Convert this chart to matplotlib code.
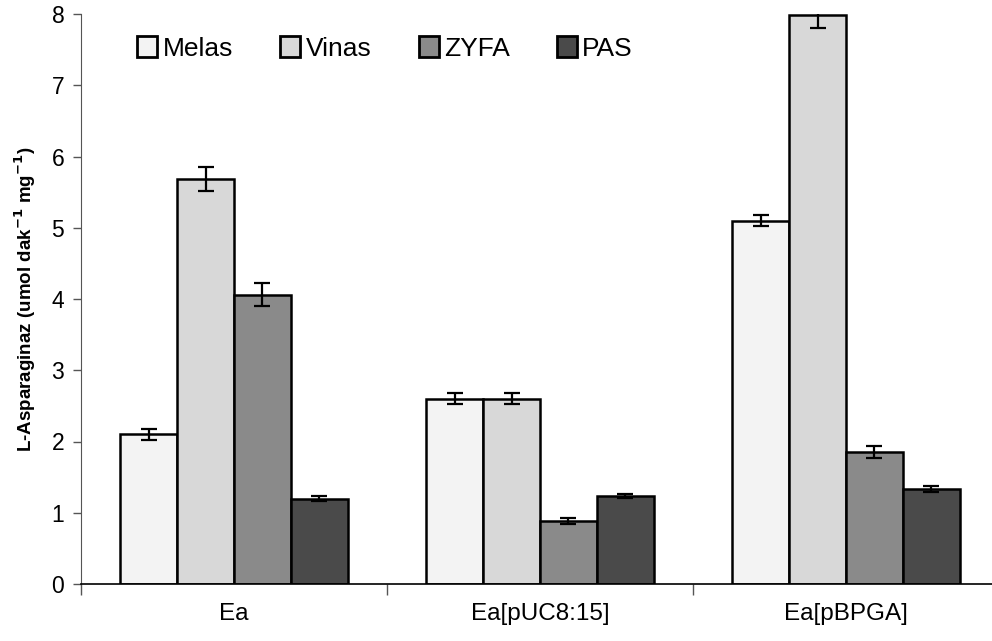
import numpy as np
import matplotlib
matplotlib.use("Agg")
import matplotlib.pyplot as plt

plt.rcParams['font.family'] = ['Liberation Sans', 'DejaVu Sans']

# data
groups = ["Ea", "Ea[pUC8:15]", "Ea[pBPGA]"]
series = ["Melas", "Vinas", "ZYFA", "PAS"]
melas = [2.10, 2.60, 5.10]
vinas = [5.68, 2.60, 7.98]
zyfa = [4.06, 0.88, 1.85]
pas = [1.20, 1.24, 1.33]
melas_err = [0.08, 0.08, 0.08]
vinas_err = [0.17, 0.08, 0.17]
zyfa_err = [0.16, 0.04, 0.08]
pas_err = [0.04, 0.03, 0.04]

values = [melas, vinas, zyfa, pas]
errors = [melas_err, vinas_err, zyfa_err, pas_err]
colors = ["#f3f3f3", "#d8d8d8", "#8a8a8a", "#4a4a4a"]

fig = plt.figure(figsize=(9.92, 6.41), dpi=100)
ax = fig.add_axes([81 / 992, 1 - 584 / 641, (999 - 81) / 992, (584 - 14) / 641])

centers = np.arange(len(groups)) + 0.5
w = 0.186
for i, (vals, errs) in enumerate(zip(values, errors)):
    x = centers + (i - 1.5) * w
    ax.bar(x, vals, width=w, color=colors[i], edgecolor="black",
           linewidth=1.8, label=series[i], zorder=2)
    ax.errorbar(x, vals, yerr=errs, fmt="none", ecolor="black",
                elinewidth=1.6, capsize=6, capthick=1.6, zorder=3)

ax.set_xlim(0, 3)
ax.set_ylim(0, 8)
ax.set_yticks(range(0, 9))
ax.tick_params(axis="y", labelsize=16.5, length=6, width=1, color="#555555", pad=6)

ax.set_xticks([0, 1, 2, 3])
ax.set_xticklabels([])
ax.set_xticks(centers, minor=True)
ax.set_xticklabels(groups, minor=True, fontsize=17.5)
ax.tick_params(axis="x", which="major", length=8, width=1, color="#555555")
ax.tick_params(axis="x", which="minor", length=0, pad=14)

for s in ["top", "right"]:
    ax.spines[s].set_visible(False)
ax.spines["left"].set_color("#555555")
ax.spines["bottom"].set_linewidth(1.2)

ax.set_ylabel(r"L-Asparaginaz (umol dak$^{\mathbf{-1}}$ mg$^{\mathbf{-1}}$)",
              fontsize=13.5, fontweight="bold", labelpad=10)

leg = ax.legend(loc="upper left", ncol=4, frameon=False, fontsize=19,
                bbox_to_anchor=(0.05, 0.98), handlelength=0.75, handleheight=0.85,
                handletextpad=0.2, columnspacing=1.8, borderaxespad=0)
for p in leg.get_patches():
    p.set_linewidth(2)

fig.savefig("out.png", dpi=100)
